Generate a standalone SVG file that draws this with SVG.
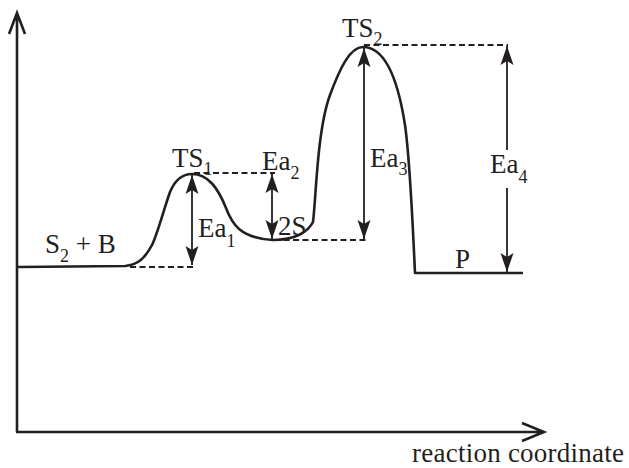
<svg xmlns="http://www.w3.org/2000/svg" width="629" height="468" viewBox="0 0 629 468">
<style>
.axis{fill:none;stroke:#231f20;stroke-width:2.6}
.curve{fill:none;stroke:#231f20;stroke-width:2.6;stroke-linejoin:round}
.dash{fill:none;stroke:#231f20;stroke-width:1.8;stroke-dasharray:6,3.5}
.dim{fill:none;stroke:#231f20;stroke-width:1.8}
text{font-family:'Liberation Serif','DejaVu Serif','Times New Roman',serif;font-size:27px;fill:#231f20}
.sub{font-size:18px}
</style>
<defs>
<marker id="ah" markerUnits="userSpaceOnUse" markerWidth="20" markerHeight="14" viewBox="0 0 20 14" refX="19" refY="7" orient="auto-start-reverse">
<path d="M19,7 L0,0.5 L4,7 L0,13.5 Z" fill="#231f20"/>
</marker>
</defs>
<g id="axes">
<path class="axis" d="M17,432 V13 M9,34 L17,13 L25,34"/>
<path class="axis" d="M16,432 H544 M522,423 L544,432 L522,441"/>
</g>
<g id="profile">
<path class="curve" d="M18,267 L125,266 C138,265 145,258 152,245 C158,232 163,212 170,192 C175,180 182,174 192,174 C208,174 218,188 226,208 C232,224 240,238 273,240 C295,240 308,232 313,222 C316,200 317,130 330,95 C340,68 350,47 363,47 C385,47 398,80 405,125 C410,160 412,210 415,273 L523,273"/>
</g>
<g id="connectors">
<path class="dash" d="M130,267 H193"/>
<path class="dash" d="M194,173 H275"/>
<path class="dash" d="M274,240 H366"/>
<path class="dash" d="M364,45 H508"/>
<line class="dim" x1="192" y1="175" x2="192" y2="265" marker-start="url(#ah)" marker-end="url(#ah)"/>
<line class="dim" x1="272" y1="174" x2="272" y2="239" marker-start="url(#ah)" marker-end="url(#ah)"/>
<line class="dim" x1="364" y1="48" x2="364" y2="239" marker-start="url(#ah)" marker-end="url(#ah)"/>
<line class="dim" x1="507" y1="46" x2="507" y2="150" marker-start="url(#ah)"/>
<line class="dim" x1="507" y1="188" x2="507" y2="272" marker-end="url(#ah)"/>
</g>
<g id="labels">
<text id="ts1" x="172" y="167">TS<tspan class="sub" dy="8">1</tspan></text>
<text id="ea2" x="262" y="170">Ea<tspan class="sub" dy="9">2</tspan></text>
<text id="ea1" x="198" y="237">Ea<tspan class="sub" dy="10">1</tspan></text>
<text id="s2s" x="278" y="235">2S</text>
<text id="s2b" x="45" y="253">S<tspan class="sub" dy="9">2</tspan><tspan dy="-9"> + B</tspan></text>
<text id="ts2" x="342" y="37">TS<tspan class="sub" dy="8">2</tspan></text>
<text id="ea3" x="370" y="167">Ea<tspan class="sub" dy="8">3</tspan></text>
<text id="ea4" x="490" y="173">Ea<tspan class="sub" dy="10">4</tspan></text>
<text id="p" x="455" y="268">P</text>
<text id="xlabel" x="412" y="462" textLength="212" lengthAdjust="spacing">reaction coordinate</text>
</g>
</svg>
